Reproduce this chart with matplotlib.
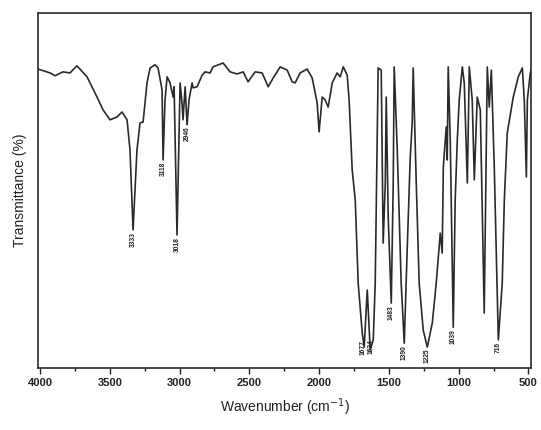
import matplotlib
matplotlib.use("Agg")
import matplotlib.pyplot as plt
from matplotlib.ticker import MultipleLocator

plt.rcParams['font.family'] = ['Liberation Sans', 'DejaVu Sans']

wavenumber = [4014, 3928, 3892, 3835, 3785, 3735, 3663, 3591, 3548, 3498, 3448, 3412, 3376, 3355,
              3333, 3305, 3283, 3261, 3233, 3211, 3175, 3154, 3125, 3118, 3104, 3089, 3068, 3046,
              3039, 3018, 2996, 2982, 2975, 2960, 2946, 2932, 2910, 2903, 2874, 2838, 2817, 2781,
              2760, 2688, 2638, 2588, 2544, 2509, 2458, 2408, 2365, 2329, 2279, 2229, 2193, 2172,
              2136, 2086, 2050, 2028, 2014, 2000, 1978, 1957, 1935, 1906, 1871, 1849, 1827, 1799,
              1785, 1763, 1741, 1720, 1691, 1677, 1655, 1634, 1612, 1598, 1577, 1555, 1541, 1526,
              1519, 1505, 1483, 1469, 1462, 1440, 1412, 1390, 1369, 1347, 1333, 1326, 1304, 1283,
              1254, 1225, 1189, 1161, 1132, 1118, 1110, 1089, 1082, 1075, 1060, 1039, 1025, 1010,
              996, 974, 960, 938, 924, 903, 888, 867, 845, 817, 795, 781, 766, 745, 716, 688, 673,
              652, 609, 573, 544, 530, 515, 508, 487, 480]
transmittance = [84.2, 83.1, 82.3, 83.4, 83.1, 85.1, 82.0, 76.3, 72.7, 69.9, 70.7, 72.1, 69.9, 61.4,
                 38.9, 61.4, 69.0, 69.3, 80.3, 84.5, 85.4, 84.5, 78.3, 58.6, 75.5, 82.0, 80.3, 76.3,
                 79.2, 37.5, 80.3, 74.6, 69.9, 79.2, 68.5, 75.5, 80.3, 78.9, 79.2, 82.5, 83.4, 83.1,
                 84.8, 85.9, 83.4, 82.8, 83.4, 80.6, 83.4, 83.1, 79.2, 81.7, 84.8, 83.9, 80.6, 80.3,
                 83.1, 84.2, 81.7, 77.5, 74.6, 66.5, 76.3, 75.5, 73.5, 80.3, 83.1, 82.0, 84.8, 82.5,
                 75.5, 55.8, 47.3, 23.9, 9.9, 5.9, 22.0, 5.1, 7.9, 23.9, 84.5, 83.9, 35.2, 52.1,
                 76.3, 42.5, 18.3, 52.1, 84.8, 61.4, 23.9, 7.0, 33.2, 59.4, 69.0, 84.5, 52.1, 23.9,
                 10.7, 5.9, 12.7, 23.9, 38.0, 32.4, 56.6, 67.9, 58.6, 84.8, 63.4, 11.5, 47.3, 64.2,
                 75.5, 84.8, 80.3, 52.1, 84.8, 75.5, 53.0, 76.3, 72.7, 15.5, 84.8, 73.5, 83.9, 56.6,
                 7.9, 23.9, 47.3, 66.2, 76.3, 82.0, 84.5, 75.5, 53.8, 75.5, 83.1, 84.0]

# Peak annotations
peak_labels = ['3333', '3118', '3018', '2946', '1677', '1634', '1483', '1390', '1225', '1039', '716']
peak_pos = [3333, 3118, 3018, 2946, 1683, 1630, 1483, 1390, 1225, 1039, 716]
peak_top = [38.9, 58.6, 37.5, 68.5, 8.5, 8.5, 18.3, 7.0, 5.9, 11.5, 7.9]

xticks = [4000, 3500, 3000, 2500, 2000, 1500, 1000, 500]

fig = plt.figure(figsize=(5.41, 4.30), dpi=100)
ax = fig.add_axes([0.070, 0.144, 0.912, 0.826])

ax.plot(wavenumber, transmittance, color='#2a2a2a', lw=1.2)

for lab, x, t in zip(peak_labels, peak_pos, peak_top):
    ax.text(x, t - 0.5, lab, rotation=90, ha='center', va='top',
            fontsize=4.8, fontweight='bold', color='#222222')

ax.set_xlim(4015, 480)
ax.set_ylim(0, 100)
ax.set_xticks(xticks)
ax.set_xticklabels([str(v) for v in xticks])
ax.xaxis.set_minor_locator(MultipleLocator(250))
ax.set_yticks([])
ax.tick_params(axis='x', which='major', direction='out', length=4, width=1.0,
               labelsize=8, colors='#222222', pad=3)
ax.tick_params(axis='x', which='minor', direction='out', length=2.5, width=1.0, colors='#222222')
for lbl in ax.get_xticklabels():
    lbl.set_fontweight('bold')
for s in ax.spines.values():
    s.set_linewidth(1.2)
    s.set_color('#2a2a2a')

ax.set_xlabel('Wavenumber (cm$^{-1}$)', fontsize=10, color='#222222', labelpad=6)
ax.set_ylabel('Transmittance (%)', fontsize=10, color='#222222', labelpad=8)

fig.savefig('out.png', dpi=100)
